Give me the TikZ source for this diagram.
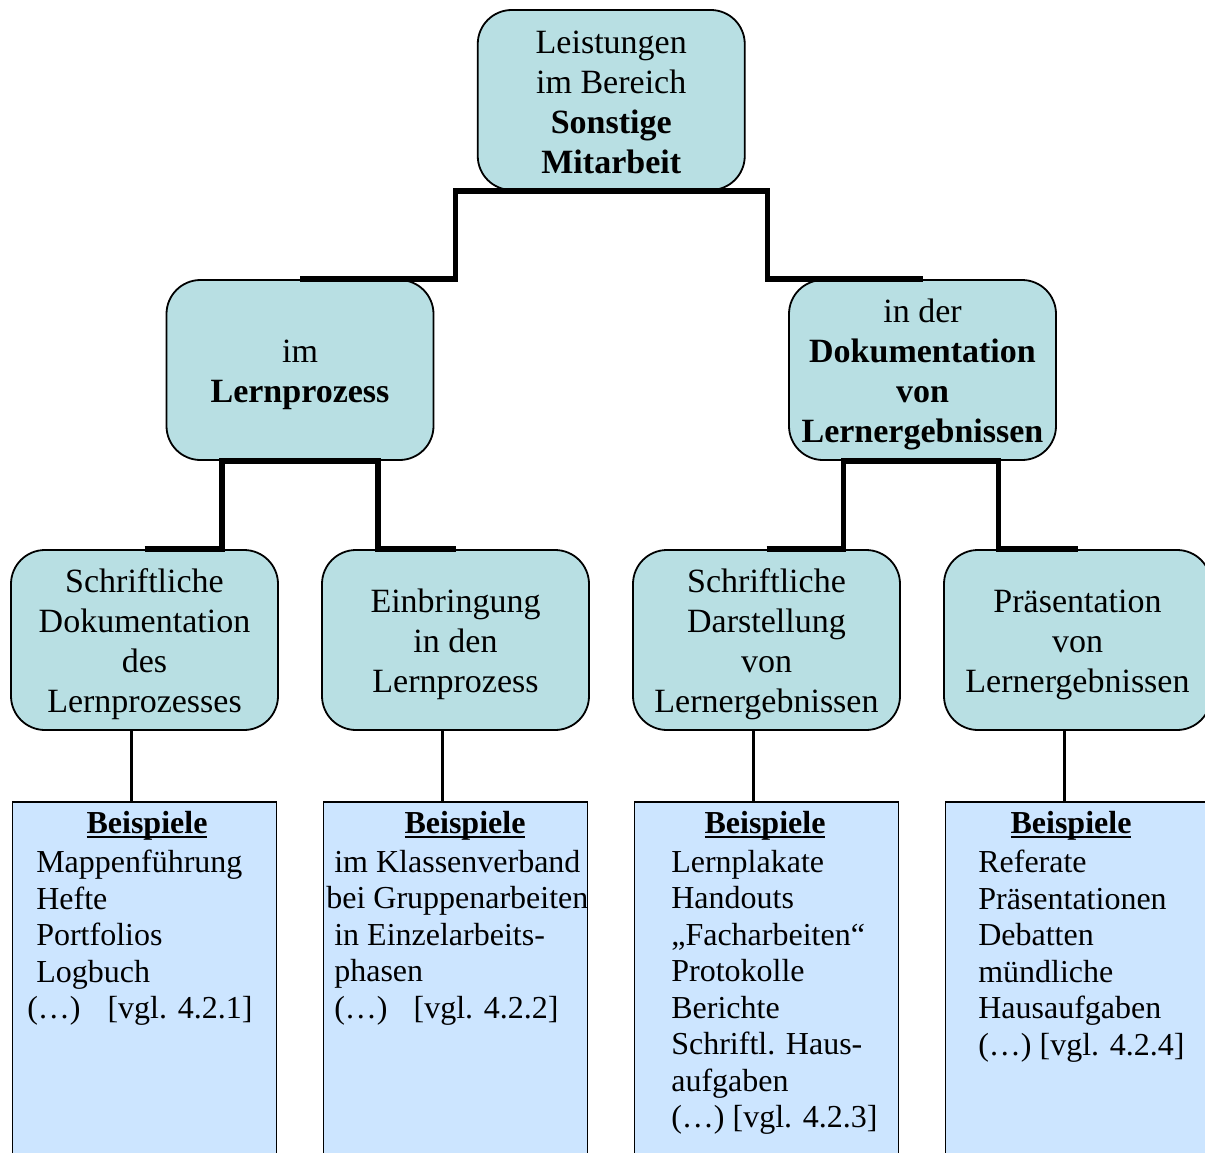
\documentclass[tikz,border=0pt]{standalone}
\usepackage{fontspec}
\setmainfont{Liberation Serif}
\usepackage{xcolor}
\usepackage{tikz}
\usetikzlibrary{positioning, calc}

\definecolor{tuerkis}{RGB}{184,223,227}
\definecolor{hellblau}{RGB}{204,229,255}

\newcommand{\ustrich}[1]{\setbox0\hbox{#1}\rlap{\rule[-4pt]{\wd0}{2pt}}\box0}
\newcommand{\oben}{\rule{0pt}{33pt}}

\begin{document}
\begin{tikzpicture}[
      x=1pt, y=-1pt,
      node distance=42.2pt,
      karte/.style={
        draw,
        line width=1.8pt,
        rounded corners=34pt,
        fill=tuerkis,
        minimum width=267pt,
        minimum height=180pt,
        inner sep=2pt,
        align=center,
        font=\fontsize{34}{40}\selectfont
      },
      beispielbox/.style={
        draw,
        line width=1.8pt,
        fill=hellblau,
        minimum width=264pt,
        minimum height=400pt,
        anchor=north
      },
      kopf/.style={
        anchor=base,
        inner sep=0pt,
        font=\fontsize{32}{36.5}\selectfont\bfseries
      },
      liste/.style={
        anchor=north west,
        inner sep=0pt,
        align=left,
        font=\fontsize{32}{36.5}\selectfont
      },
      ast/.style={
        line width=5.5pt
      },
      stiel/.style={
        line width=3.5pt
      }
    ]

    \useasboundingbox (0,0) rectangle (1205,1153);
    \clip (0,0) rectangle (1205,1153);

    \node[karte] (sonstige) at (611.25,100) {
      \rule{0pt}{27pt}Leistungen\\
      im Bereich\\
      \textbf{Sonstige}\\
      \textbf{Mitarbeit}
    };

    \node[karte] (lern) at (300,370) {
      \oben im\\
      \textbf{Lernprozess}
    };

    \node[karte] (doku) at (922.5,370) {
      \oben in der\\
      \textbf{Dokumentation}\\
      \textbf{von}\\
      \textbf{Lernergebnissen}
    };

    \node[karte] (s1) at (144.5,640) {
      \oben Schriftliche\\
      Dokumentation\\
      des\\
      Lernprozesses
    };

    \node[karte, right=of s1] (s2) {
      \oben Einbringung\\
      in den\\
      Lernprozess
    };

    \node[karte, right=of s2] (s3) {
      \oben Schriftliche\\
      Darstellung\\
      von\\
      Lernergebnissen
    };

    \node[karte, right=of s3] (s4) {
      \oben Präsentation\\
      von\\
      Lernergebnissen
    };

    \node[beispielbox, below=70pt of s1] (b1) {};
    \node[beispielbox, below=70pt of s2] (b2) {};
    \node[beispielbox, below=70pt of s3] (b3) {};
    \node[beispielbox, below=70pt of s4] (b4) {};

    \node[kopf] (k1) at ([xshift=2.5pt, yshift=-33pt]b1.north) {\ustrich{Beispiele}};
    \node[kopf] (k2) at ([xshift=9.5pt, yshift=-33pt]b2.north) {\ustrich{Beispiele}};
    \node[kopf] (k3) at ([xshift=-1.5pt, yshift=-33pt]b3.north) {\ustrich{Beispiele}};
    \node[kopf] (k4) at ([xshift=-6.5pt, yshift=-33pt]b4.north) {\ustrich{Beispiele}};

    \node[liste] (l1) at ([xshift=15.5pt, yshift=-49pt]b1.north west) {
      \hspace*{9pt}Mappenführung\\
      \hspace*{9pt}Hefte\\
      \hspace*{9pt}Portfolios\\
      \hspace*{9pt}Logbuch\\
      (…)\hspace*{27pt}[vgl. 4.2.1]
    };

    \node[liste] (l2) at ([xshift=3.5pt, yshift=-49pt]b2.north west) {
      \hspace*{8pt}im Klassenverband\\
      bei Gruppenarbeiten\\
      \hspace*{8pt}in Einzelarbeits-\\
      \hspace*{8pt}phasen\\
      \hspace*{8pt}(…)\hspace*{26pt}[vgl. 4.2.2]
    };

    \node[liste] (l3) at ([xshift=37.5pt, yshift=-49pt]b3.north west) {
      Lernplakate\\
      Handouts\\
      „Facharbeiten“\\
      Protokolle\\
      Berichte\\
      Schriftl. Haus-\\
      aufgaben\\
      (…) [vgl. 4.2.3]
    };

    \node[liste] (l4) at ([xshift=33.5pt, yshift=-49pt]b4.north west) {
      Referate\\
      Präsentationen\\
      Debatten\\
      mündliche\\
      Hausaufgaben\\
      (…) [vgl. 4.2.4]
    };

    \draw[ast] (lern.north) -| ($(sonstige.south)+(-156,0)$) -- ($(sonstige.south)+(156,0)$) |- (doku.north);
    \draw[ast] (s1.north) -| ($(lern.south)+(-78,0)$) -- ($(lern.south)+(78,0)$) |- (s2.north);
    \draw[ast] (s3.north) -| ($(doku.south)+(-79,0)$) -- ($(doku.south)+(76,0)$) |- (s4.north);

    \draw[stiel] ([xshift=-13pt]s1.south) -- ([xshift=-13pt]b1.north);
    \draw[stiel] ([xshift=-13pt]s2.south) -- ([xshift=-13pt]b2.north);
    \draw[stiel] ([xshift=-13pt]s3.south) -- ([xshift=-13pt]b3.north);
    \draw[stiel] ([xshift=-13pt]s4.south) -- ([xshift=-13pt]b4.north);

    \end{tikzpicture}
\end{document}
